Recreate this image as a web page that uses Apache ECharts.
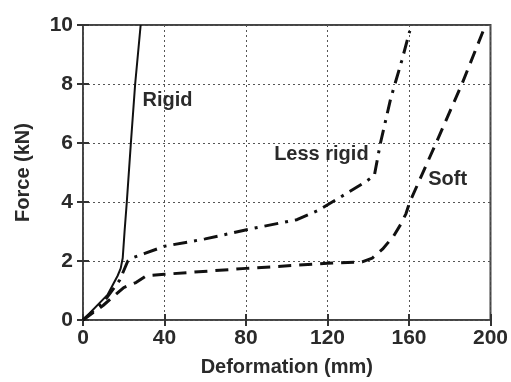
<!DOCTYPE html>
<html>
<head>
<meta charset="utf-8">
<script src="https://cdn.jsdelivr.net/npm/echarts@6/dist/echarts.min.js"></script>
<style>
  html, body { margin: 0; padding: 0; background: #fff; }
  #chart { width: 511px; height: 382px; }
</style>
</head>
<body>
<div id="chart"></div>
<script>
// deformation (mm), force (kN)
const rigidData = [[0, 0], [12, 0.85], [17, 1.5], [18.5, 1.75], [19.5, 2.1], [20.4, 3], [21.5, 4], [23.5, 6], [25.6, 8], [28.3, 10]]
const lessRigidData = [[0, 0], [10, 0.6], [18, 1.35], [22, 2.0], [24, 2.1], [30, 2.25], [40, 2.5], [60, 2.75],
  [83, 3.1], [105, 3.4], [115, 3.7], [126, 4.15], [139, 4.7], [143, 4.9], [146, 6.0], [151, 7.5], [156.5, 8.8], [160.4, 9.8]]
const softData = [[0, 0], [10, 0.5], [20, 1.1], [26, 1.27], [31, 1.5], [40, 1.55], [80, 1.75], [120, 1.92],
  [137, 1.97], [142, 2.1], [147, 2.4], [152.5, 2.85], [156, 3.25], [158.5, 3.6], [160.4, 4], [173.3, 6], [186, 8], [197.6, 10]]
const curveLabels = [
  { name: 'Rigid', value: [41.5, 7.43] },
  { name: 'Less rigid', value: [117, 5.6] },
  { name: 'Soft', value: [179, 4.77] }
]
const xTicks = [0, 40, 80, 120, 160, 200]
const yTicks = [0, 2, 4, 6, 8, 10]

const font = 'Liberation Sans'
const ink = '#2a2a2a'

let chart = echarts.init(document.getElementById('chart'))

const tickOnly = {
  axisLine: { show: false },
  axisTick: { show: true, inside: true, length: 6, lineStyle: { color: '#333', width: 2 } },
  axisLabel: { show: false },
  splitLine: { show: false }
}

let option = {
  animation: false,
  backgroundColor: '#fff',
  grid: { left: 83, right: 14, top: 25, bottom: 57, show: true, borderColor: '#444', borderWidth: 2, backgroundColor: 'transparent' },
  xAxis: [
    {
      type: 'value', min: xTicks[0], max: xTicks[xTicks.length - 1], interval: 40,
      name: 'Deformation (mm)', nameLocation: 'middle', nameGap: 37,
      nameTextStyle: { fontFamily: font, fontSize: 20, fontWeight: 'bold', color: ink },
      axisLine: { show: false },
      axisTick: { show: true, inside: true, length: 6, lineStyle: { color: '#333', width: 2 } },
      axisLabel: { fontFamily: font, fontSize: 21, fontWeight: 'bold', color: ink, margin: 8 },
      splitLine: { show: true, lineStyle: { type: [2, 3], color: '#555', width: 1 } }
    },
    Object.assign({ type: 'value', position: 'top', min: 0, max: 200, interval: 40 }, tickOnly)
  ],
  yAxis: [
    {
      type: 'value', min: yTicks[0], max: yTicks[yTicks.length - 1], interval: 2,
      name: 'Force (kN)', nameLocation: 'middle', nameGap: 50,
      nameTextStyle: { fontFamily: font, fontSize: 20, fontWeight: 'bold', color: ink },
      axisLine: { show: false },
      axisTick: { show: true, inside: true, length: 6, lineStyle: { color: '#333', width: 2 } },
      axisLabel: { fontFamily: font, fontSize: 21, fontWeight: 'bold', color: ink, margin: 10 },
      splitLine: { show: true, lineStyle: { type: [2, 3], color: '#555', width: 1 } }
    },
    Object.assign({ type: 'value', position: 'right', min: 0, max: 10, interval: 2 }, tickOnly)
  ],
  series: [
    {
      name: 'Rigid', type: 'line', data: rigidData, showSymbol: false,
      lineStyle: { color: '#111', width: 2, type: 'solid' }
    },
    {
      name: 'Less rigid', type: 'line', data: lessRigidData, showSymbol: false,
      lineStyle: { color: '#111', width: 3, type: [14, 7, 3, 7] }
    },
    {
      name: 'Soft', type: 'line', data: softData, showSymbol: false,
      lineStyle: { color: '#111', width: 3, type: [13, 8] }
    },
    {
      name: 'labels', type: 'scatter', data: curveLabels, symbolSize: 0, z: 10,
      itemStyle: { opacity: 1 },
      label: {
        show: true, position: 'inside', formatter: '{b}',
        fontFamily: font, fontSize: 20, fontWeight: 'bold', color: ink, opacity: 1
      }
    }
  ]
}
chart.setOption(option)
</script>
</body>
</html>
